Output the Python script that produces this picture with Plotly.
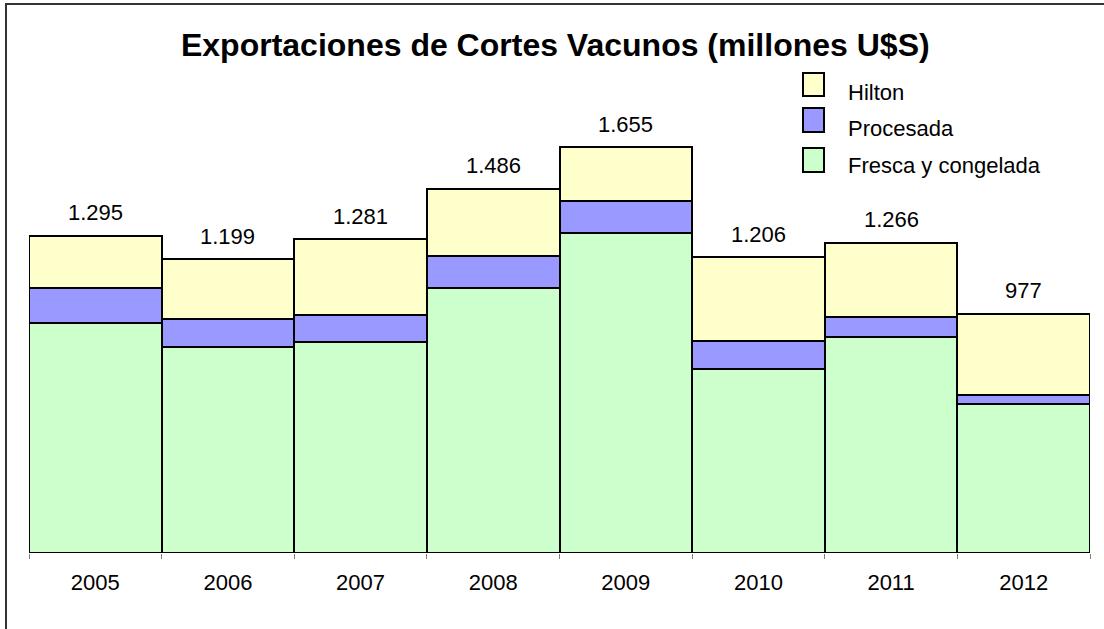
import plotly.graph_objects as go

# Export values (million US$)
years = ['2005', '2006', '2007', '2008', '2009', '2010', '2011', '2012']
fresca = [938, 840, 861, 1080, 1304, 751, 881, 609]
procesada = [143, 116, 110, 133, 132, 113, 80, 37]
hilton = [214, 243, 310, 273, 219, 342, 305, 331]
totals = [1295, 1199, 1281, 1486, 1655, 1206, 1266, 977]

series_names = ['Hilton', 'Procesada', 'Fresca y congelada']
series_colors = ['#FFFFCC', '#9999FF', '#CCFFCC']

FONT = 'Arial, Liberation Sans, sans-serif'
W, H = 1104, 629
L, R, T, B = 29, 14, 80, 76
plot_w = W - L - R
plot_h = H - T - B


def px_x(x):
    # pixel -> paper x
    return (x - L) / plot_w


def px_y(y):
    # pixel -> paper y
    return (H - B - y) / plot_h


fig = go.Figure()

# Stacked bars, bottom to top
for name, vals, color in [('Fresca y congelada', fresca, '#CCFFCC'),
                          ('Procesada', procesada, '#9999FF'),
                          ('Hilton', hilton, '#FFFFCC')]:
    fig.add_trace(go.Bar(
        x=years,
        y=vals,
        name=name,
        marker=dict(color=color, line=dict(color='black', width=2.5)),
        showlegend=False,
        hoverinfo='x+y+name'
    ))

# Total labels above each bar (category index, since years look numeric)
for i, tot in enumerate(totals):
    fig.add_annotation(
        x=i, y=tot, text=f'{tot:,}'.replace(',', '.'),
        showarrow=False, yanchor='middle', yshift=23,
        font=dict(family=FONT, size=22, color='black')
    )

# Hand-drawn legend (larger squares than plotly's native legend)
legend_boxes = [(73, 96), (108, 132), (148, 172)]
legend_text_y = [93, 128, 165]
for name, color, (y0, y1), ty in zip(series_names, series_colors, legend_boxes, legend_text_y):
    fig.add_shape(type='rect', xref='paper', yref='paper',
                  x0=px_x(803), x1=px_x(824), y0=px_y(y1), y1=px_y(y0),
                  fillcolor=color, line=dict(color='black', width=2))
    fig.add_annotation(xref='paper', yref='paper', x=px_x(846), y=px_y(ty),
                       text=name, showarrow=False, xanchor='left', yanchor='middle',
                       font=dict(family=FONT, size=22, color='black'))

# Outer chart border
fig.add_shape(type='rect', xref='paper', yref='paper',
              x0=px_x(6), x1=px_x(1120), y0=px_y(650), y1=px_y(4),
              line=dict(color='#333333', width=2), fillcolor='rgba(0,0,0,0)')

fig.update_layout(
    width=W, height=H,
    margin=dict(l=L, r=R, t=T, b=B, autoexpand=False),
    paper_bgcolor='white',
    plot_bgcolor='white',
    barmode='stack',
    bargap=0,
    title=dict(
        text='<b>Exportaciones de Cortes Vacunos (millones U$S)</b>',
        x=0.503, xref='container', xanchor='center',
        y=1 - 45 / H, yref='container', yanchor='middle',
        font=dict(family=FONT, size=32, color='black')
    ),
    xaxis=dict(
        type='category',
        range=[-0.5, len(years) - 0.5],
        tickson='boundaries',
        ticks='outside', ticklen=5, tickcolor='#808080', tickwidth=1,
        ticklabelstandoff=14, tickangle=0,
        showgrid=False, showline=False, zeroline=False,
        tickfont=dict(family=FONT, size=22, color='black')
    ),
    yaxis=dict(visible=False, range=[0, plot_h * 4.08]),
    showlegend=False
)

# drop the default page margin so the figure sits at the window's corner
fig.write_html('out.html',
               config={'displayModeBar': False},
               post_script="document.body.style.margin='0';document.body.style.overflow='hidden';")
